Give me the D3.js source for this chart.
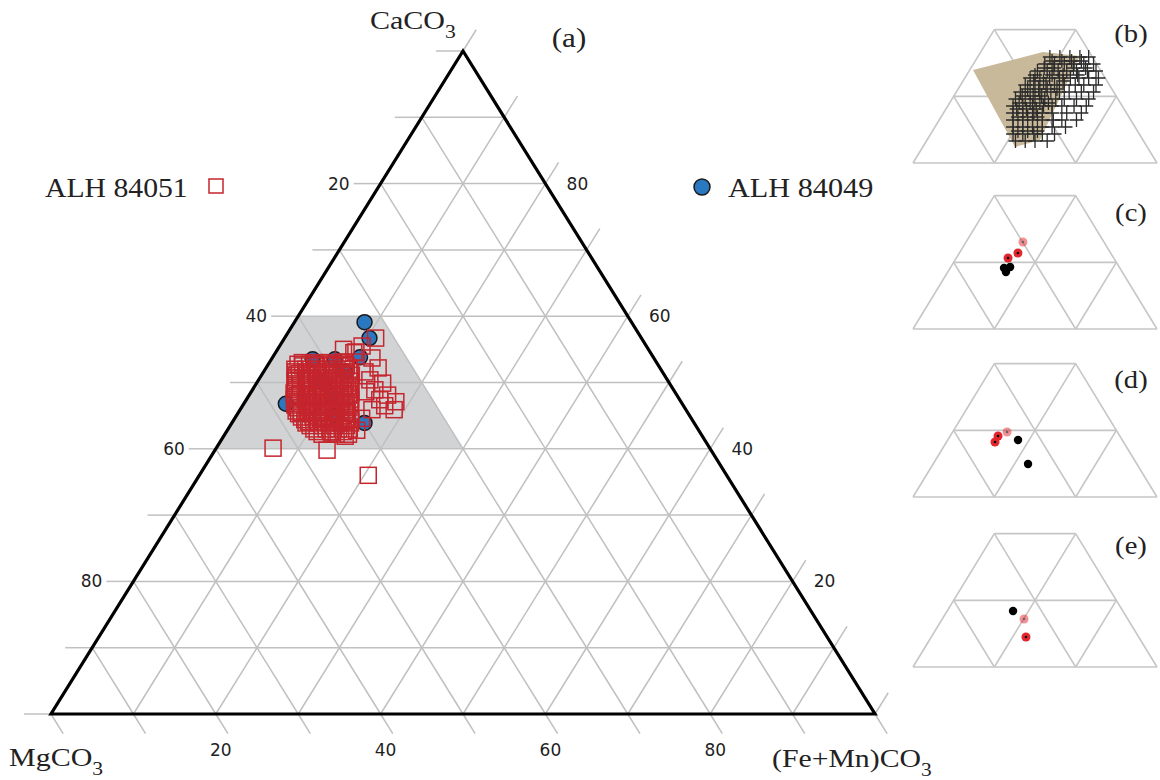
<!DOCTYPE html>
<html><head><meta charset="utf-8">
<script src="https://cdn.jsdelivr.net/npm/d3@7"></script>
<style>body{margin:0;background:#fff} svg{display:block}</style>
</head><body>
<svg id="c" width="1160" height="780"></svg>
<script>
// ---- DATA (all compositions in mol%: [CaCO3, (Fe+Mn)CO3]; MgCO3 = 100 - CaCO3 - (Fe+Mn)CO3) ----
const gridLevels = [10,20,30,40,50,60,70,80,90];
const tickLevels = [0,10,20,30,40,50,60,70,80,90,100];
const leftTickLabels = [20,40,60,80];    // MgCO3 along left edge
const rightTickLabels = [20,40,60,80];   // CaCO3 along right edge
const bottomTickLabels = [20,40,60,80];  // (Fe+Mn)CO3 along bottom edge
const shadedField = [[60,0],[60,10],[40,30],[40,0]];

const alh84049 = [[59.1,8.5],[56.7,10.3],[53.5,5.0],[53.5,7.7],[53.8,10.6],[51.6,9.9],
  [46.8,5.1],[43.9,16.1],[50.0,8.0],[45.0,12.0],[48.0,10.0]];

const alh84051 = [
  [55.0,8.0],[54.5,9.5],
  [53.0,4.0],[53.0,5.5],[53.0,7.2],[53.0,8.8],
  [52.75,3.6],[52.75,5.0],[52.75,6.5],[52.75,7.8],[52.75,9.2],
  [52.5,4.3],[52.5,5.9],[52.5,7.0],[52.5,8.2],[52.5,9.6],
  [52.0,3.6],[52.0,4.9],[52.0,6.3],[52.0,7.5],[52.0,8.7],[52.0,10.2],
  [51.6,3.9],[51.6,5.2],[51.6,6.6],[51.6,7.9],[51.6,9.3],[51.6,10.5],
  [51.35,4.5],[51.35,5.9],[51.35,7.1],[51.35,8.6],[51.35,10.0],
  [51.1,4.2],[51.1,5.6],[51.1,6.8],[51.1,8.1],[51.1,9.6],[51.1,10.9],
  [50.7,4.4],[50.7,6.0],[50.7,7.4],[50.7,8.8],[50.7,10.1],
  [50.2,4.5],[50.2,5.8],[50.2,7.3],[50.2,8.5],[50.2,9.9],[50.2,11.2],
  [49.8,4.8],[49.8,6.2],[49.8,7.8],[49.8,9.3],[49.8,10.8],
  [49.55,5.5],[49.55,6.9],[49.55,8.3],[49.55,9.8],[49.55,11.2],
  [49.3,5.0],[49.3,6.4],[49.3,7.6],[49.3,9.1],[49.3,10.4],[49.3,11.7],
  [48.9,5.2],[48.9,6.6],[48.9,8.0],[48.9,9.6],[48.9,11.0],[48.9,11.9],
  [48.4,5.3],[48.4,6.9],[48.4,8.2],[48.4,9.5],[48.4,10.9],[48.4,12.2],
  [48.15,6.1],[48.15,7.6],[48.15,9.1],[48.15,10.6],[48.15,12.0],
  [48.0,5.9],[48.0,7.3],[48.0,8.8],[48.0,10.2],[48.0,11.6],
  [47.5,5.8],[47.5,7.1],[47.5,8.6],[47.5,9.9],[47.5,11.3],[47.5,12.6],
  [47.1,6.0],[47.1,7.5],[47.1,8.9],[47.1,10.3],[47.1,11.7],[47.1,12.8],
  [46.85,6.6],[46.85,8.1],[46.85,9.5],[46.85,11.0],[46.85,12.4],
  [46.6,6.3],[46.6,7.7],[46.6,9.0],[46.6,10.5],[46.6,11.8],[46.6,13.0],
  [46.2,6.8],[46.2,8.2],[46.2,9.7],[46.2,11.1],[46.2,12.6],
  [45.7,6.9],[45.7,8.3],[45.7,9.6],[45.7,10.8],[45.7,12.3],[45.7,13.5],
  [45.5,7.6],[45.5,9.0],[45.5,10.4],[45.5,11.9],[45.5,13.2],
  [45.3,7.4],[45.3,8.9],[45.3,10.2],[45.3,11.6],[45.3,13.0],
  [44.8,8.0],[44.8,9.4],[44.8,10.7],[44.8,12.1],[44.8,13.6],
  [44.4,8.6],[44.4,10.0],[44.4,11.5],[44.4,12.9],[44.4,14.2],
  [44.1,9.2],[44.1,10.8],[44.1,12.3],[44.1,13.8],
  [43.9,9.0],[43.9,10.5],[43.9,11.8],[43.9,13.2],[43.9,14.4],
  [43.5,9.7],[43.5,11.2],[43.5,12.7],[43.5,14.1],
  [43.0,10.4],[43.0,11.9],[43.0,13.4],[43.0,14.7],
  [42.6,11.0],[42.6,12.6],[42.6,14.2],
  [42.2,11.8],[42.2,13.5],[42.2,15.0],
  [55.5,10.0],[53.7,12.1],[52.2,13.6],[50.4,13.5],[49.9,15.3],[48.1,16.8],[47.1,18.3],
  [45.9,18.7],[47.4,16.2],[45.9,16.0],[48.6,13.9],[44.6,15.4],[42.8,15.7],[41.9,14.75],
  [42.4,12.9],[46.5,17.25],[48.9,14.85],[56.7,11.05],[54.6,9.7],[53.1,9.15],[51.6,12.3],
  [40.1,6.9],[39.8,13.6],[36.0,20.5]
];

// small panels (b)-(e): mini ternaries cut at CaCO3 = 66.7
const panelNames = ["(b)","(c)","(d)","(e)"];
const panelGridLevels = [0,33.33,66.67];
const panelBField = [[46.5,1.35],[55.5,25.55],[53.5,41.65],[11.5,46.25],[8.0,37.8]];
const panelBCrosses = [
  [53,29.6],[53,33.7],[53,37.8],[53,41.9],[53,45.5],
  [51,31.5],[51,35.5],[51,39.5],[51,43.5],
  [49.5,29.25],[49.5,33.25],[49.5,37.25],[49.5,41.25],[49.5,45.25],[49.5,49.25],
  [47.5,30],[47.5,34],[47.5,42],[47.5,47],
  [46,28],[46,32],[46,36.5],[46,40],[46,44],[46,48.5],[46,52],
  [44,28],[44,35],[44,39.5],[44,45.5],
  [42.5,26.75],[42.5,30.75],[42.5,34.75],[42.5,38.75],[42.5,43.25],[42.5,46.75],[42.5,50.75],[42.5,54.75],
  [41,29],[41,33],[41,41],
  [39,26.5],[39,30.5],[39,35],[39,38.5],[39,42.5],[39,47],[39,50.5],[39,55.5],
  [37,28.5],[37,33],[37,36.5],[37,40.5],
  [35.5,26.25],[35.5,30.25],[35.5,34.25],[35.5,38.75],[35.5,42.25],[35.5,46.25],[35.5,51.25],[35.5,56.25],
  [33.5,28],[33.5,32.5],[33.5,36],
  [32,26],[32,30],[32,34],[32,38],[32,42.5],[32,46],[32,51],[32,56],
  [30,28.5],[30,33],[30,37],[30,40.5],
  [28.5,26.75],[28.5,30.75],[28.5,34.75],[28.5,39.25],[28.5,42.75],[28.5,46.75],[28.5,51.75],[28.5,56.75],
  [27,29],[27,33],[27,37],
  [25,28.5],[25,32.5],[25,37],[25,40.5],[25,44.5],[25,50.5],[25,56.5],
  [23,31.5],[23,35.5],[23,39.5],
  [21.5,30.25],[21.5,34.25],[21.5,38.25],[21.5,42.25],[21.5,46.75],[21.5,50.25],[21.5,56.25],
  [18,32],[18,36],[18,40],[18,44],[18,48],[18,53.5],
  [16,35],[16,39],[16,43],
  [14.5,33.75],[14.5,37.75],[14.5,42.25],[14.5,45.75],[14.5,50.75],
  [11,36.5],[11,40.5],[11,44.5],[11,49.5]
];
const panelRed = [[], [[38.0,24.0],[35.5,21.2]], [[30.5,19.6],[27.5,19.85]], [[15.0,38.8]]];
const panelRedLight = [[], [[43.5,23.3]], [[32.5,22.3]], [[24.0,33.5]]];
const panelBlack = [[], [[31.0,24.3],[28.5,23.85],[30.5,22.05]], [[28.5,28.8],[16.5,38.9]], [[28.0,27.0]]];

// ---- DRAW ----
const svg = d3.select("#c");
const X = d3.scaleLinear().domain([0,100]).range([51,875]);
const Y = d3.scaleLinear().domain([0,100]).range([714,51]);
const P = (ca, fe) => [X(fe + ca/2), Y(ca)];
const line = d3.line();
const GRID = "#c0c0c0";
const RED = "#c5252d";

// shaded field
svg.append("path").attr("d", line(shadedField.map(d => P(d[0], d[1]))) + "Z")
  .attr("fill", "#d2d3d5").attr("stroke", "none");

// grid
const g = svg.append("g").attr("stroke", GRID).attr("stroke-width", 1.5).attr("fill","none");
gridLevels.forEach(v => {
  g.append("path").attr("d", line([P(v,0), P(v,100-v)]));       // const CaCO3
  g.append("path").attr("d", line([P(0,v), P(100-v,v)]));       // const FeMn
  g.append("path").attr("d", line([P(0,100-v), P(100-v,0)]));   // const Mg
});

// ticks
const L = P(0,0), R = P(0,100), T = P(100,0);
const norm = (a,b) => { const dx=b[0]-a[0], dy=b[1]-a[1], l=Math.hypot(dx,dy); return [dx/l, dy/l]; };
const dirRight = norm(L, T);
const dirBottom = norm(T, R);
tickLevels.forEach(v => {
  const a = P(v, 0);
  g.append("path").attr("d", line([a, [a[0]-27, a[1]]]));
  const b = P(v, 100 - v);
  g.append("path").attr("d", line([b, [b[0]+dirRight[0]*25, b[1]+dirRight[1]*25]]));
  const c = P(0, v);
  g.append("path").attr("d", line([c, [c[0]+dirBottom[0]*23, c[1]+dirBottom[1]*23]]));
});

// outer triangle
svg.append("path").attr("d", line([L, R, T]) + "Z")
  .attr("fill","none").attr("stroke","#000").attr("stroke-width",3.2).attr("stroke-linejoin","miter");

// tick labels
const tl = svg.append("g").attr("font-family","'DejaVu Sans', Verdana, sans-serif")
  .attr("font-size", 17).attr("fill","#1e1e1e");
leftTickLabels.forEach(m => {
  const a = P(100 - m, 0);
  tl.append("text").attr("x", a[0]-31).attr("y", a[1]).attr("text-anchor","end")
    .attr("dominant-baseline","central").text(m);
});
rightTickLabels.forEach(cv => {
  const b = P(cv, 100 - cv);
  tl.append("text").attr("x", b[0]+32).attr("y", b[1]).attr("text-anchor","middle")
    .attr("dominant-baseline","central").text(cv);
});
bottomTickLabels.forEach(f => {
  const c = P(0, f);
  tl.append("text").attr("x", c[0]+5).attr("y", 750).attr("text-anchor","middle")
    .attr("dominant-baseline","central").text(f);
});

// data: ALH 84049 (blue circles) then ALH 84051 (red squares)
svg.append("g").selectAll("circle").data(alh84049).join("circle")
  .attr("cx", d => P(d[0], d[1])[0]).attr("cy", d => P(d[0], d[1])[1]).attr("r", 7.5)
  .attr("fill", "#2a79c0").attr("stroke", "#1a1a1a").attr("stroke-width", 1.5);
const S = 16;
svg.append("g").selectAll("rect").data(alh84051).join("rect")
  .attr("x", d => P(d[0], d[1])[0] - S/2).attr("y", d => P(d[0], d[1])[1] - S/2)
  .attr("width", S).attr("height", S)
  .attr("fill", "none").attr("stroke", RED).attr("stroke-width", 1.5);

// titles (serif, horizontally widened to match the original typeface)
const serif = "'Liberation Serif', 'Times New Roman', serif";
function chem(x, y, base, size, sx) {
  const gg = svg.append("g").attr("transform", `translate(${x},${y}) scale(${sx},1)`);
  const t = gg.append("text").attr("font-family", serif).attr("font-size", size).attr("fill", "#222");
  t.append("tspan").text(base);
  t.append("tspan").attr("font-size", size*0.72).attr("dy", size*0.34).text("3");
}
chem(370, 29, "CaCO", 25, 1.2);
chem(9, 766, "MgCO", 25, 1.2);
chem(772, 767, "(Fe+Mn)CO", 25, 1.19);
function label(x, y, txt, size, sx, anchor) {
  svg.append("g").attr("transform", `translate(${x},${y}) scale(${sx},1)`)
    .append("text").attr("font-family", serif).attr("font-size", size).attr("fill", "#222")
    .attr("text-anchor", anchor || "start").text(txt);
}
label(569, 47, "(a)", 27, 1.15, "middle");

// legend
label(45, 197, "ALH 84051", 27, 1.1);
svg.append("rect").attr("x", 209).attr("y", 179).attr("width", 14).attr("height", 14)
  .attr("fill","none").attr("stroke",RED).attr("stroke-width",1.5);
svg.append("circle").attr("cx", 702).attr("cy", 187).attr("r", 8)
  .attr("fill", "#2a79c0").attr("stroke", "#1a1a1a").attr("stroke-width", 1.5);
label(728, 197, "ALH 84049", 27, 1.12);

// small panels
const panelBottoms = [163, 329, 497, 667];
const labelY = [42, 221, 388, 554];
panelBottoms.forEach((y0, i) => {
  const px = d3.scaleLinear().domain([0,100]).range([913,1157]);
  const py = d3.scaleLinear().domain([0,100]).range([y0, y0-200]);
  const Q = (ca, fe) => [px(fe + ca/2), py(ca)];
  const top = 66.67;
  const pg = svg.append("g").attr("stroke", "#c6c6c6").attr("stroke-width", 1.6).attr("fill","none");
  panelGridLevels.forEach(v => {
    pg.append("path").attr("d", line([Q(v,0), Q(v,100-v)]));
    pg.append("path").attr("d", line([Q(0,v), Q(Math.min(100-v, top), v)]));
    const caEnd = Math.min(100-v, top);
    pg.append("path").attr("d", line([Q(0,100-v), Q(caEnd, 100-v-caEnd)]));
  });
  if (i === 0) {
    svg.append("path").attr("d", line(panelBField.map(d => Q(d[0], d[1]))) + "Z")
      .attr("fill", "#c9b99b").attr("stroke", "none");
    const cg = svg.append("g").attr("stroke", "#2b2b2b").attr("stroke-width", 1.3);
    panelBCrosses.forEach(d => {
      const p = Q(d[0], d[1]);
      cg.append("path").attr("d", `M${p[0]-7},${p[1]}H${p[0]+7}M${p[0]},${p[1]-7}V${p[1]+7}`);
    });
  }
  svg.append("g").selectAll("circle").data(panelBlack[i]).join("circle")
    .attr("cx", d => Q(d[0], d[1])[0]).attr("cy", d => Q(d[0], d[1])[1]).attr("r", 4.2).attr("fill", "#000");
  [[panelRedLight[i], 0.5, "#666"], [panelRed[i], 1, "#000"]].forEach(([arr, op, dot]) => {
    const rg = svg.append("g");
    arr.forEach(d => {
      const p = Q(d[0], d[1]);
      rg.append("circle").attr("cx", p[0]).attr("cy", p[1]).attr("r", 4.5).attr("fill", "#e3262b").attr("fill-opacity", op);
      rg.append("circle").attr("cx", p[0]).attr("cy", p[1]).attr("r", 1.3).attr("fill", dot);
    });
  });
  label(1131, labelY[i], panelNames[i], 26, 1.1, "middle");
});
</script>
</body></html>
